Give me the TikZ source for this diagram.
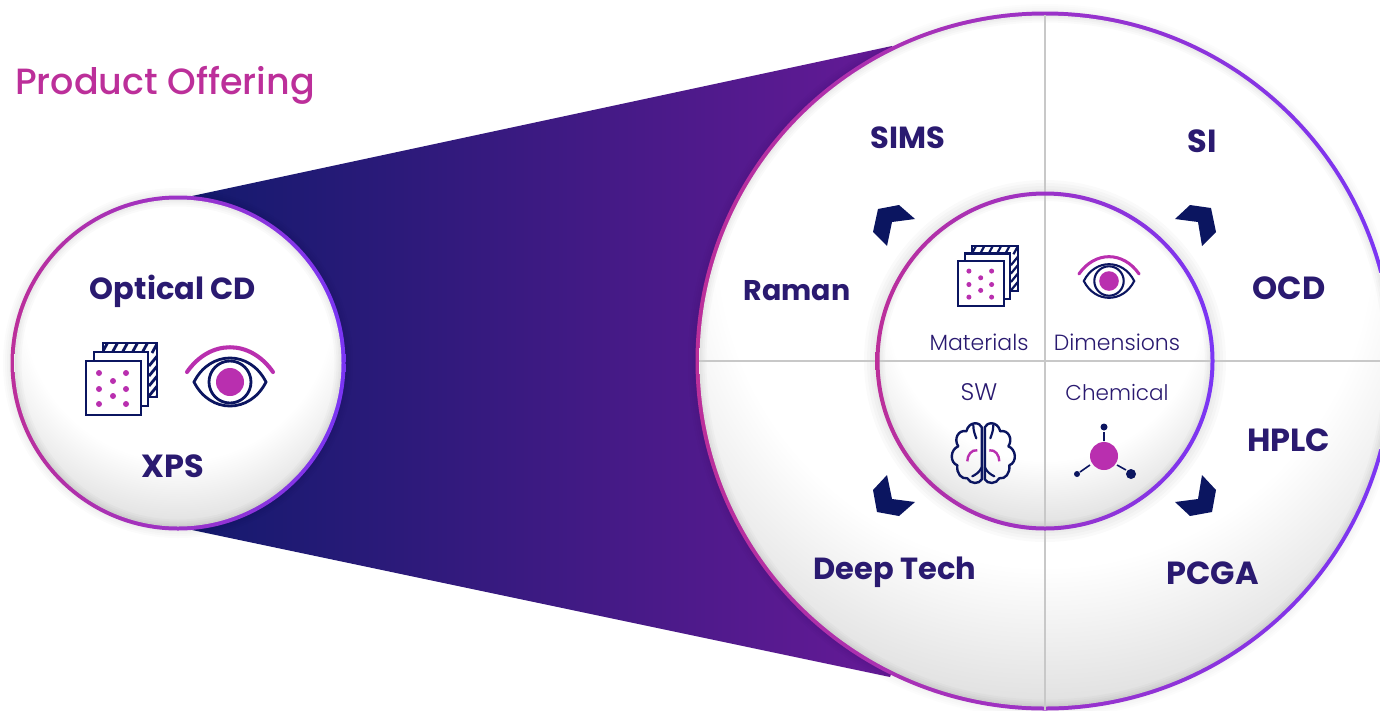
\documentclass[tikz,border=0pt]{standalone}
\usepackage{fontspec}
\setmainfont{Poppins}[UprightFont={* Light},BoldFont={* SemiBold}]
\newfontfamily\titlefont{Poppins}[UprightFont={* Medium}]
\newfontfamily\labfont{Poppins}[UprightFont={* Bold}]
\definecolor{navy}{HTML}{0B1560}
\definecolor{inkc}{HTML}{2A1A70}
\definecolor{mag}{HTML}{B92FAF}
\definecolor{ringl}{HTML}{BC2F9A}
\definecolor{ringr}{HTML}{7A35F5}
\definecolor{linec}{HTML}{C8C8C8}
\definecolor{funl}{HTML}{141A6E}
\definecolor{funr}{HTML}{6C1A9A}
\pgfdeclareradialshading{vignA}{\pgfpointorigin}{color(0bp)=(white); color(17.5bp)=(white); color(25bp)=(black!12); color(50bp)=(black!12)}
\newcommand{\softdisc}[3]{%
 \begin{scope}
  \clip (#1,#2) circle (#3);
  \shade[shading=vignA] (#1,#2-0.35*#3) circle (1.35*#3);
  \foreach \w in {14,10,6,3}{\draw[black,opacity=.02,line width=\w pt] (#1,#2) circle (#3);}
 \end{scope}}
\tikzset{
 ring/.style={left color=ringl,right color=ringr,even odd rule},
 lab/.style={font=\labfont\fontsize{#1}{#1}\selectfont,text=inkc,inner sep=0pt,anchor=base},
 sublab/.style={font=\fontsize{#1}{#1}\selectfont,text=inkc,inner sep=0pt,anchor=base},
 chev/.style={fill=navy,draw=none},
 pics/layers/.style={code={
  \draw[navy,line width=#1,fill=white] (17,-18) rectangle (71,36);
  \begin{scope}
   \clip (17,-18) rectangle (71,36);
   \foreach \k in {0,...,6}{\draw[navy,line width=#1] (22+\k*10,-19) -- ++(-6,11);}
   \foreach \k in {0,...,4}{\draw[navy,line width=#1] (72,-6+\k*10) -- ++(-9,11);}
  \end{scope}
  \draw[navy,line width=#1,fill=white] (8,-9) rectangle (62,45);
  \draw[navy,line width=#1,fill=white] (0,0) rectangle (55,54);
  \foreach \x/\y in {13/12,13/28,13/43,27/20,27/35,40/12,40/28,40/43}{\fill[mag] (\x,\y) circle (3);}
 }},
 pics/eye/.style={code={
  \draw[mag,line width=1.45*#1,line cap=round] (-43,-10) .. controls (-20,-43) and (20,-43) .. (43,-10);
  \draw[navy,line width=#1,fill=white] (-36,0) .. controls (-20,-32) and (20,-32) .. (36,0) .. controls (20,32) and (-20,32) .. (-36,0) -- cycle;
  \draw[navy,line width=#1] (0,0) circle (21);
  \fill[mag] (0,0) circle (14);
 }},
 pics/hemi/.style={code={
  \draw[navy,line width=2.4pt,line join=round] (1.5,-26) .. controls (3,-31) and (14,-33) .. (17,-22)
   .. controls (25,-24) and (30,-14) .. (25,-7)
   .. controls (33,-4) and (34,9) .. (26,12)
   .. controls (27,20) and (22,26) .. (16,25)
   .. controls (13,31) and (4,31) .. (1.5,26) -- cycle;
  \draw[navy,line width=2.2pt,line cap=round] (10,-28) .. controls (10,-22) and (8,-18) .. (7,-15);
  \draw[navy,line width=2.2pt,line cap=round] (1.5,14) .. controls (4,19) and (7,21) .. (11,23);
  \draw[mag,line width=2.4pt] (6,-3) .. controls (12,-4) and (16,2) .. (16,8);
 }}
}
\begin{document}
\begin{tikzpicture}[x=1pt,y=-1pt]
\clip (0,0) rectangle (1380,710);
\fill[white] (0,0) rectangle (1380,710);
% funnel
\shade[left color=funl,right color=funr] (192,196) -- (892,46) -- (950,200) -- (950,520) -- (890,677) -- (192,530) -- cycle;
% small circle
\foreach \r in {8,6,4,2}{\fill[black,opacity=.015] (178,363) circle (167+\r);}
\shade[ring] (178,363) circle (167.5);
\softdisc{178}{363}{163.5}
% big circle
\foreach \r in {8,6,4,2}{\fill[black,opacity=.012] (1045,361) circle (349+\r);}
\shade[ring] (1045,361) circle (349.5);
\softdisc{1045}{361}{345.5}
\foreach \r in {12,9,6,3}{\fill[black,opacity=.02] (1045,361) circle (169+\r);}
\softdisc{1045}{361}{167}
\draw[linec,line width=2.4pt] (1045,15) -- (1045,710);
\draw[linec,line width=2.4pt] (699,361) -- (1380,361);
\shade[ring] (1045,361) circle (169.5) circle (165.5);
% title
\node[inner sep=0pt,anchor=base,text=ringl,font=\titlefont\fontsize{36.5}{36.5}\selectfont] (title) at (165,94) {Product Offering};
% small labels
\node[lab=30.5] (ocd) at (173,299) {Optical CD};
\node[lab=32] (xps) at (173,477) {XPS};
\pic at (86,361) {layers=2.8pt};
\pic at (230,382) {eye=2.8pt};
% outer labels
\node[lab=30.5] (sims) at (907.5,148) {SIMS};
\node[lab=32] (si) at (1202,152) {SI};
\node[lab=28.5] (raman) at (797,300) {Raman};
\node[lab=32] (ocd2) at (1289,299) {OCD};
\node[lab=32] (hplc) at (1288.5,451) {HPLC};
\node[lab=30.5] (deep) at (895,579) {Deep Tech};
\node[lab=32] (pcga) at (1212.5,584) {PCGA};
% sub labels
\node[sublab=22] (mat) at (979,350) {Materials};
\node[sublab=22] (dim) at (1117,350) {Dimensions};
\node[sublab=24] (sw) at (979,400) {SW};
\node[sublab=21.5] (chem) at (1117,400) {Chemical};
% chevrons
\fill[chev] (899,205) -- (915,219) -- (892,222) -- (887,246) -- (873,232) -- (878,209) -- cycle;
\fill[chev] (1190,205) -- (1175,219) -- (1198,222) -- (1202,246) -- (1216,232) -- (1211,208) -- cycle;
\fill[chev] (887,475) -- (873,490) -- (877,512) -- (899,516) -- (915,502) -- (892,499) -- cycle;
\fill[chev] (1202,475) -- (1216,490) -- (1212,512) -- (1190,516) -- (1175,502) -- (1198,499) -- cycle;
% icons
\pic[scale=.84,transform shape] at (958,261) {layers=2.2pt};
\pic[scale=.7,transform shape] at (1109,281) {eye=2.1pt};
\pic at (983.3,453.3) {hemi};
\pic[xscale=-1] at (983.3,453.3) {hemi};
% molecule
\fill[mag] (1104,456) circle (14);
\fill[navy] (1104,427) circle (3.5) (1131,474) circle (5) (1077,474) circle (3);
\draw[navy,line width=1.6pt] (1104,432) -- (1104,441) (1117,465) -- (1126,470) (1090,465) -- (1080,472);
\end{tikzpicture}
\end{document}
